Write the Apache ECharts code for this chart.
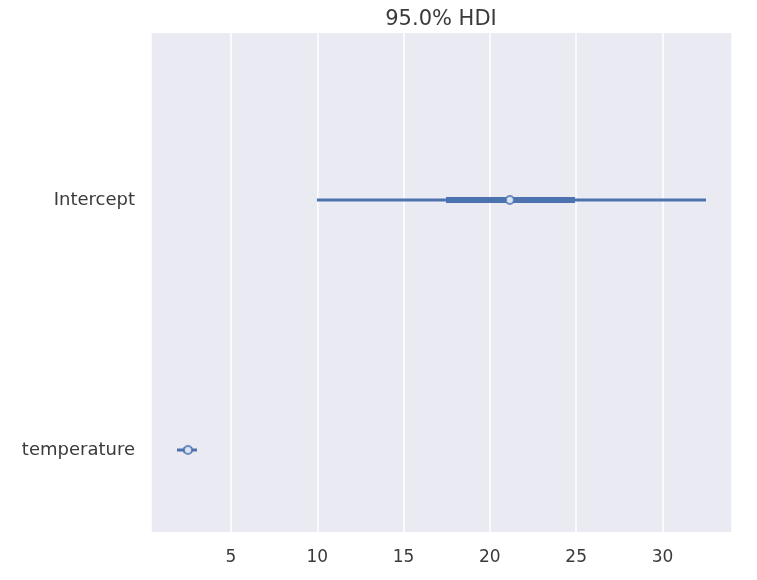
<html>
<head>
    <meta http-equiv="Content-Type" content="text/html; charset=utf-8" />
    <script src="https://cdn.jsdelivr.net/npm/echarts@6/dist/echarts.min.js"></script>
    <style>
        body { margin: 0; background: #fff; }
        #main { width: 757px; height: 580px; }
    </style>
</head>
<body>
    <div id="main"></div>
    <script type="text/javascript">
        // variable names (bottom to top) and their summary numbers
        var names = ['temperature', 'Intercept'];
        var hdiLow = [1.87, 9.98];
        var hdiHigh = [3.03, 32.52];
        var iqrLow = [2.25, 17.46];
        var iqrHigh = [2.75, 24.93];
        var medians = [2.51, 21.16];
        var xTicks = [5, 10, 15, 20, 25, 30];

        var blue = '#4c72b0';
        var series = [];
        for (var i = 0; i < names.length; i++) {
            // 95% HDI line
            series.push({
                type: 'line', silent: true, symbol: 'none',
                lineStyle: { color: blue, width: 3 },
                data: [[hdiLow[i], i], [hdiHigh[i], i]]
            });
            // inner (thick) interval
            series.push({
                type: 'line', silent: true, symbol: 'none',
                lineStyle: { color: blue, width: 6 },
                data: [[iqrLow[i], i], [iqrHigh[i], i]]
            });
        }
        series.push({
            type: 'scatter', silent: true, symbol: 'circle', symbolSize: 8,
            itemStyle: { color: '#ffffff', borderColor: blue, borderWidth: 2 },
            data: medians.map(function (m, i) { return [m, i]; }),
            z: 5
        });

        var myChart = echarts.init(document.getElementById('main'));
        myChart.setOption({
            animation: false,
            title: {
                text: '95.0% HDI', left: 436, top: 4, textAlign: 'center',
                textStyle: { fontFamily: 'DejaVu Sans', fontSize: 21, fontWeight: 'normal', color: '#3a3a3a' }
            },
            grid: { left: 151, right: 25, top: 33, bottom: 48, show: true, backgroundColor: '#eaeaf2', borderWidth: 0 },
            xAxis: {
                type: 'value', min: 0.365, max: 34.03,
                axisLine: { show: false }, axisTick: { show: false },
                splitLine: { show: true, lineStyle: { color: '#ffffff', width: 1.5 } },
                axisLabel: {
                    customValues: xTicks, margin: 17,
                    fontFamily: 'DejaVu Sans', fontSize: 17, color: '#3a3a3a'
                }
            },
            yAxis: {
                type: 'value', min: -0.328, max: 1.668,
                axisLine: { show: false }, axisTick: { show: false },
                splitLine: { show: false },
                axisLabel: {
                    customValues: [0, 1], margin: 16,
                    fontFamily: 'DejaVu Sans', fontSize: 18, color: '#3a3a3a',
                    formatter: function (v) { return names[Math.round(v)]; }
                }
            },
            series: series
        });
    </script>
</body>
</html>
